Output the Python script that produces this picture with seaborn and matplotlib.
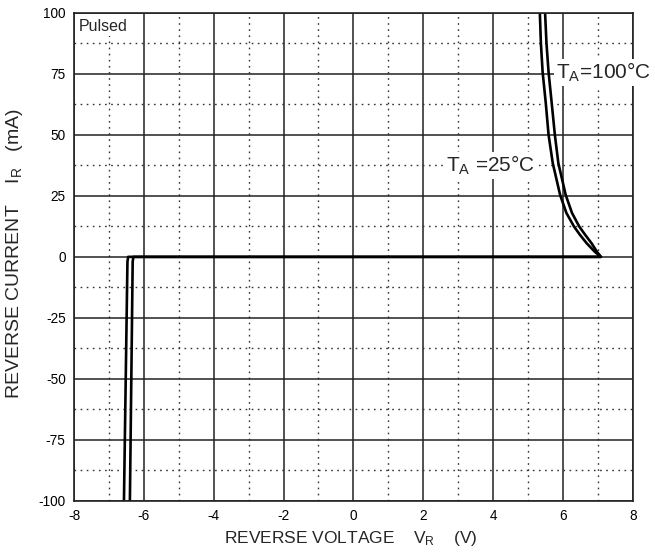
import matplotlib
matplotlib.use("Agg")
import matplotlib.pyplot as plt
import seaborn as sns
import pandas as pd
from matplotlib.ticker import MultipleLocator

# ---- data ----
v_25 = [-6.57, -6.47, -6.45, 7.09, 6.92, 6.68, 6.49, 6.32, 6.10, 5.92, 5.71, 5.59, 5.51, 5.42, 5.37, 5.34]
i_25 = [-100, -2, 0, 0, 2, 5.6, 9, 12.4, 18, 25.4, 38.4, 50, 63, 75.7, 87.5, 100]
v_100 = [-6.40, -6.32, -6.30, 7.09, 6.98, 6.82, 6.64, 6.47, 6.26, 6.08, 5.87, 5.77, 5.68, 5.59, 5.53, 5.49]
i_100 = [-100, -2, 0, 0, 2, 5.6, 9, 12.4, 18, 25.4, 38.4, 50, 63, 75.7, 87.5, 100]
x_ticks = [-8, -6, -4, -2, 0, 2, 4, 6, 8]
y_ticks = [-100, -75, -50, -25, 0, 25, 50, 75, 100]

df = pd.concat([
    pd.DataFrame({"V": v_25, "I": i_25, "T": "25C"}),
    pd.DataFrame({"V": v_100, "I": i_100, "T": "100C"}),
])

sns.set_style("white")
plt.rcParams["font.family"] = ["Liberation Sans", "DejaVu Sans"]
plt.rcParams["axes.unicode_minus"] = False
plt.rcParams["mathtext.fontset"] = "custom"
plt.rcParams["mathtext.rm"] = "Liberation Sans"
plt.rcParams["mathtext.it"] = "Liberation Sans"

fig = plt.figure(figsize=(6.55, 5.59), dpi=100)
ax = fig.add_axes([0.113, 0.104, 0.853, 0.873])

sns.lineplot(data=df, x="V", y="I", units="T", estimator=None, sort=False,
             color="black", linewidth=1.9, ax=ax, legend=False)

ax.set_xlim(-8, 8)
ax.set_ylim(-100, 100)
ax.set_xticks(x_ticks)
ax.set_yticks(y_ticks)
ax.set_xticklabels([str(t) for t in x_ticks])
ax.set_yticklabels([str(t) for t in y_ticks])
ax.xaxis.set_minor_locator(MultipleLocator(1))
ax.yaxis.set_minor_locator(MultipleLocator(12.5))
ax.grid(which="major", color="#222222", linewidth=1.1, linestyle="-")
ax.grid(which="minor", color="#333333", linewidth=1.0, linestyle=(0, (1.2, 3.2)))
ax.set_axisbelow(True)
ax.tick_params(which="both", length=0, labelsize=9.8, colors="black", pad=6)
for s in ax.spines.values():
    s.set_color("#222222")
    s.set_linewidth(1.2)

ax.set_xlabel(r"REVERSE VOLTAGE    V$_\mathregular{R}$    (V)", fontsize=12.5)
ax.xaxis.set_label_coords(0.495, -0.058)
ax.set_ylabel(r"REVERSE CURRENT    I$_\mathregular{R}$   (mA)", fontsize=14)
ax.yaxis.set_label_coords(-0.088, 0.506)

box = dict(facecolor="white", edgecolor="none", pad=1.5)
ax.text(-7.86, 94.5, "Pulsed", fontsize=11.5, ha="left", va="center", bbox=box)
ax.text(5.80, 75.5, r"T$_\mathregular{A}$=100°C", fontsize=15, ha="left", va="center", bbox=box)
ax.text(2.66, 37.5, r"T$_\mathregular{A}$ =25°C", fontsize=15, ha="left", va="center", bbox=box)

fig.savefig("out.png", dpi=100)
